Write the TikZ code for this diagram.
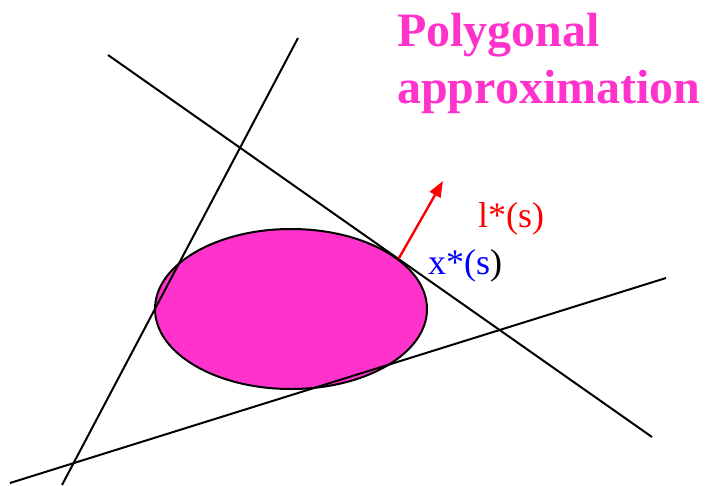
\documentclass[tikz,border=0pt]{standalone}
\usepackage{fontspec}
\setmainfont{Liberation Serif}
\usepackage{tikz}
\usetikzlibrary{arrows.meta, shapes.geometric, positioning}
\usepackage{xcolor}
\definecolor{polymag}{RGB}{255,51,204}

\tikzset{
  tangent/.style={black, line width=2pt},
  label/.style={anchor=base west, inner sep=0pt, font=\fontsize{36}{40}\selectfont},
  title/.style={anchor=base west, inner sep=0pt, text=polymag, font=\fontsize{48}{56}\selectfont\bfseries}
}

\begin{document}
\begin{tikzpicture}[x=1pt, y=-1pt]
  \useasboundingbox (0,0) rectangle (708,485);

  % the convex set
  \node[ellipse, draw, line width=2pt, fill=polymag, minimum width=272pt, minimum height=160pt, inner sep=0pt] (blob) at (291,309) {};

  % supporting lines
  \coordinate (a1) at (108,55);
  \coordinate (a2) at (652,437);
  \coordinate (b1) at (298,38);
  \coordinate (b2) at (62,485);
  \coordinate (c1) at (10,483);
  \coordinate (c2) at (666,278);
  \draw[tangent] (a1) -- (a2);
  \draw[tangent] (b1) -- (b2);
  \draw[tangent] (c1) -- (c2);

  % normal direction
  \coordinate (tip) at (443,181);
  \draw[red, line width=2.4pt, -{Triangle[length=16pt, width=12pt]}] (blob.25) -- (tip);

  % labels
  \node[label, text=red] (lstar) at (478,227) {l*(s)};
  \node[label] (xstar) at (428,274) {\textcolor{blue}{x*(s})};

  \node[title] (title1) at (397,46) {Polygonal};
  \node[title] (title2) at (397,103) {approximation};
\end{tikzpicture}
\end{document}
